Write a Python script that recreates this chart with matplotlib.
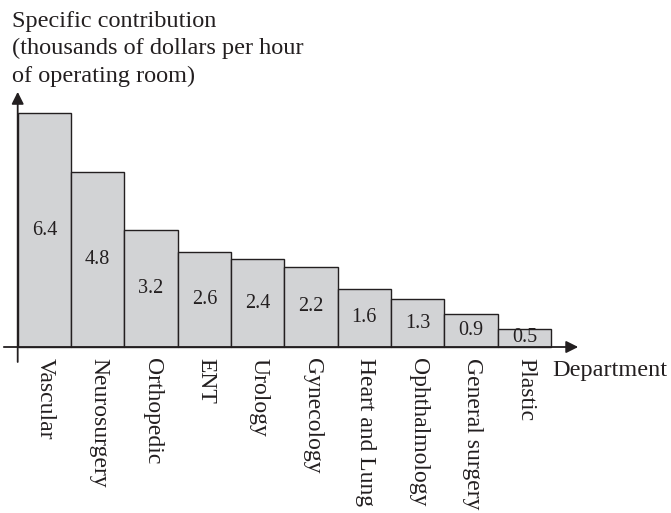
import matplotlib.pyplot as plt

departments = ["Vascular", "Neurosurgery", "Orthopedic", "ENT", "Urology",
               "Gynecology", "Heart and Lung", "Ophthalmology",
               "General surgery", "Plastic"]
contribution = [6.4, 4.8, 3.2, 2.6, 2.4, 2.2, 1.6, 1.3, 0.9, 0.5]
value_labels = ["6.4", "4.8", "3.2", "2.6", "2.4", "2.2", "1.6", "1.3", "0.9", "0.5"]
title_lines = ["Specific contribution",
               "(thousands of dollars per hour",
               "of operating room)"]

W, H = 671, 513
X0, BW = 17.7, 53.33     # pixel position of first bar edge, bar width in px
Y0, PU = 347.0, 36.55    # baseline pixel row, px per unit
INK = "#231f20"


def main():
    plt.rcParams["font.family"] = ["Liberation Serif", "DejaVu Serif"]
    fig = plt.figure(figsize=(W / 100, H / 100), dpi=100)
    ax = fig.add_axes([0, 0, 1, 1])
    ax.set_xlim(-X0 / BW, (W - X0) / BW)
    ax.set_ylim((Y0 - H) / PU, Y0 / PU)
    ax.axis("off")

    xs = list(range(len(contribution)))
    ax.bar(xs, contribution, width=1.0, align="edge", color="#d2d3d5",
           edgecolor=INK, linewidth=1.0, zorder=2)

    for x, v, lab in zip(xs, contribution, value_labels):
        ax.text(x + 0.5, v / 2, lab, ha="center", va="center",
                fontsize=14.5, color=INK, zorder=3)

    for x, name in zip(xs, departments):
        ax.text(x + 0.52, -0.30, name, rotation=270, ha="center", va="top",
                fontsize=17, color=INK)

    # axes with arrows
    arrow = dict(arrowstyle="-|>", color=INK, lw=1.3, mutation_scale=18,
                 shrinkA=0, shrinkB=0)
    ax.annotate("", xy=(10.51, 0), xytext=(-0.26, 0), arrowprops=arrow, zorder=4)
    ax.annotate("", xy=(0.0, 6.98), xytext=(0.0, -0.41), arrowprops=arrow, zorder=4)

    ax.text(10.02, -0.63, "Department", ha="left", va="center",
            fontsize=17.5, color=INK)

    # title block, one line per baseline
    for i, line in enumerate(title_lines):
        fig.text(12.5 / W, 1 - (26.7 + 27.6 * i) / H, line,
                 ha="left", va="baseline", fontsize=17.5, color=INK)

    fig.savefig("out.png", dpi=100)


if __name__ == "__main__":
    main()
